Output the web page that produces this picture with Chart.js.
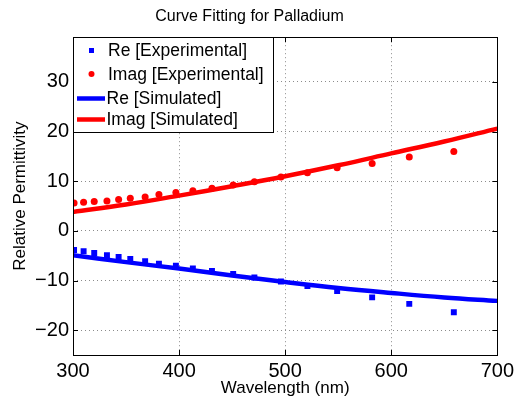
<!DOCTYPE html>
<html>
<head>
<meta charset="utf-8">
<script src="https://cdn.jsdelivr.net/npm/chart.js@4/dist/chart.umd.min.js"></script>
<style>
  html, body { margin: 0; padding: 0; background: #fff; }
  #wrap { width: 518px; height: 404px; }
</style>
</head>
<body>
<div id="wrap"><canvas id="chart" width="518" height="404"></canvas></div>
<script>
const WL_EXP = [301, 310, 320, 332, 343, 354, 368, 381, 397, 413, 431, 451, 471, 496, 521, 549, 582, 617, 659];
const RE_EXP = [-3.85, -4.1, -4.45, -4.9, -5.25, -5.65, -6.1, -6.6, -7.0, -7.55, -8.1, -8.7, -9.4, -10.2, -11.1, -12.1, -13.4, -14.7, -16.4];
const IM_EXP = [5.6, 5.75, 5.9, 6.0, 6.3, 6.55, 6.8, 7.3, 7.7, 8.1, 8.6, 9.25, 9.9, 10.85, 11.7, 12.7, 13.55, 14.85, 16.0];

// simulated curves
const WL_SIM = [300, 350, 400, 450, 500, 550, 600, 650, 700];
const RE_SIM = [-4.9, -6.3, -7.6, -9.0, -10.3, -11.5, -12.5, -13.4, -14.1];
const IM_SIM = [3.8, 5.3, 7.1, 9.0, 11.0, 13.2, 15.6, 18.0, 20.6];

const X_TICKS = [300, 400, 500, 600, 700];
const Y_TICKS = [-20, -10, 0, 10, 20, 30];

const LEGEND_LABELS = ["Re [Experimental]", "Imag [Experimental]", "Re [Simulated]", "Imag [Simulated]"];

const FONT = '"Liberation Sans", Arial, Helvetica, sans-serif';
Chart.defaults.font.family = FONT;
Chart.defaults.color = "#000";

const pts = (xs, ys) => xs.map((x, i) => ({ x: x, y: ys[i] }));

// black box, inward ticks and the boxed legend (matlab look)
const matlabFrame = {
  id: "matlabFrame",
  afterDatasetsDraw(chart) {
    const ctx = chart.ctx;
    const a = chart.chartArea;
    const xs = chart.scales.x, ys = chart.scales.y;
    ctx.save();
    ctx.strokeStyle = "#000";
    ctx.lineWidth = 1;
    ctx.strokeRect(Math.round(a.left) + 0.5, Math.round(a.top) + 0.5,
      Math.round(a.right - a.left), Math.round(a.bottom - a.top));
    const tl = 5;
    ctx.beginPath();
    X_TICKS.forEach(v => {
      const px = Math.round(xs.getPixelForValue(v)) + 0.5;
      ctx.moveTo(px, a.bottom); ctx.lineTo(px, a.bottom - tl);
      ctx.moveTo(px, a.top); ctx.lineTo(px, a.top + tl);
    });
    Y_TICKS.forEach(v => {
      const py = Math.round(ys.getPixelForValue(v)) + 0.5;
      ctx.moveTo(a.left, py); ctx.lineTo(a.left + tl, py);
      ctx.moveTo(a.right, py); ctx.lineTo(a.right - tl, py);
    });
    ctx.stroke();

    // legend
    const lx = Math.round(a.left) + 0.5, ly = Math.round(a.top) + 0.5;
    const lw = 200, lh = 95;
    ctx.fillStyle = "#fff";
    ctx.fillRect(lx, ly, lw, lh);
    ctx.strokeRect(lx, ly, lw, lh);
    const rows = [ly + 13, ly + 36.5, ly + 61, ly + 82];
    ctx.font = "17.5px " + FONT;
    ctx.textBaseline = "middle";
    ctx.textAlign = "left";
    chart.data.datasets.forEach((ds, i) => {
      const y = rows[i];
      if (ds.showLine) {
        ctx.strokeStyle = ds.borderColor;
        ctx.lineWidth = 4.5;
        ctx.beginPath();
        ctx.moveTo(a.left + 4, y); ctx.lineTo(a.left + 32, y);
        ctx.stroke();
      } else if (ds.pointStyle === "rect") {
        ctx.fillStyle = ds.backgroundColor;
        ctx.fillRect(a.left + 16, y - 2.5, 5, 5);
      } else {
        ctx.fillStyle = ds.backgroundColor;
        ctx.beginPath();
        ctx.arc(a.left + 18.5, y, 3, 0, Math.PI * 2);
        ctx.fill();
      }
      ctx.fillStyle = "#000";
      ctx.fillText(ds.label, ds.showLine ? a.left + 33.5 : a.left + 35, y + 1);
    });
    ctx.restore();
  }
};

new Chart(document.getElementById("chart"), {
  type: "scatter",
  data: {
    datasets: [
      { label: LEGEND_LABELS[0], data: pts(WL_EXP, RE_EXP), pointStyle: "rect",
        backgroundColor: "#0000ff", borderColor: "#0000ff", pointRadius: 4.2, pointBorderWidth: 0, order: 2 },
      { label: LEGEND_LABELS[1], data: pts(WL_EXP, IM_EXP), pointStyle: "circle",
        backgroundColor: "#ff0000", borderColor: "#ff0000", pointRadius: 3.5, pointBorderWidth: 0, order: 2 },
      { label: LEGEND_LABELS[2], data: pts(WL_SIM, RE_SIM), showLine: true, tension: 0.4,
        borderColor: "#0000ff", backgroundColor: "#0000ff", borderWidth: 4.5, pointRadius: 0, clip: 0, order: 1 },
      { label: LEGEND_LABELS[3], data: pts(WL_SIM, IM_SIM), showLine: true, tension: 0.4,
        borderColor: "#ff0000", backgroundColor: "#ff0000", borderWidth: 4.5, pointRadius: 0, clip: 0, order: 1 }
    ]
  },
  options: {
    responsive: false,
    animation: false,
    layout: { padding: { left: 0, right: 19, top: 0, bottom: 0 } },
    plugins: {
      legend: { display: false },
      tooltip: { enabled: false },
      title: {
        display: true,
        text: "Curve Fitting for Palladium",
        font: { size: 16, weight: "normal" },
        padding: { top: 7, bottom: 11 }
      }
    },
    scales: {
      x: {
        type: "linear",
        min: 300, max: 700,
        afterBuildTicks: s => { s.ticks = X_TICKS.map(v => ({ value: v })); },
        afterFit: s => { s.height = 49; },
        ticks: { font: { size: 20 }, padding: 4, maxRotation: 0 },
        grid: { color: "#8c8c8c", drawTicks: false, lineWidth: 1 },
        border: { display: false, dash: [1, 3] },
        title: { display: true, text: "Wavelength (nm)", font: { size: 17 }, padding: { top: 0, bottom: 5 } }
      },
      y: {
        min: -25, max: 39,
        afterBuildTicks: s => { s.ticks = Y_TICKS.map(v => ({ value: v })); },
        afterFit: s => { s.width = 73; },
        ticks: { font: { size: 20 }, padding: 4, callback: v => String(v).replace("-", "\u2212") },
        grid: { color: "#8c8c8c", drawTicks: false, lineWidth: 1 },
        border: { display: false, dash: [1, 3] },
        title: { display: true, text: "Relative Permittivity", font: { size: 17 }, padding: { top: 10, bottom: 0 } }
      }
    }
  },
  plugins: [matlabFrame]
});
</script>
</body>
</html>
